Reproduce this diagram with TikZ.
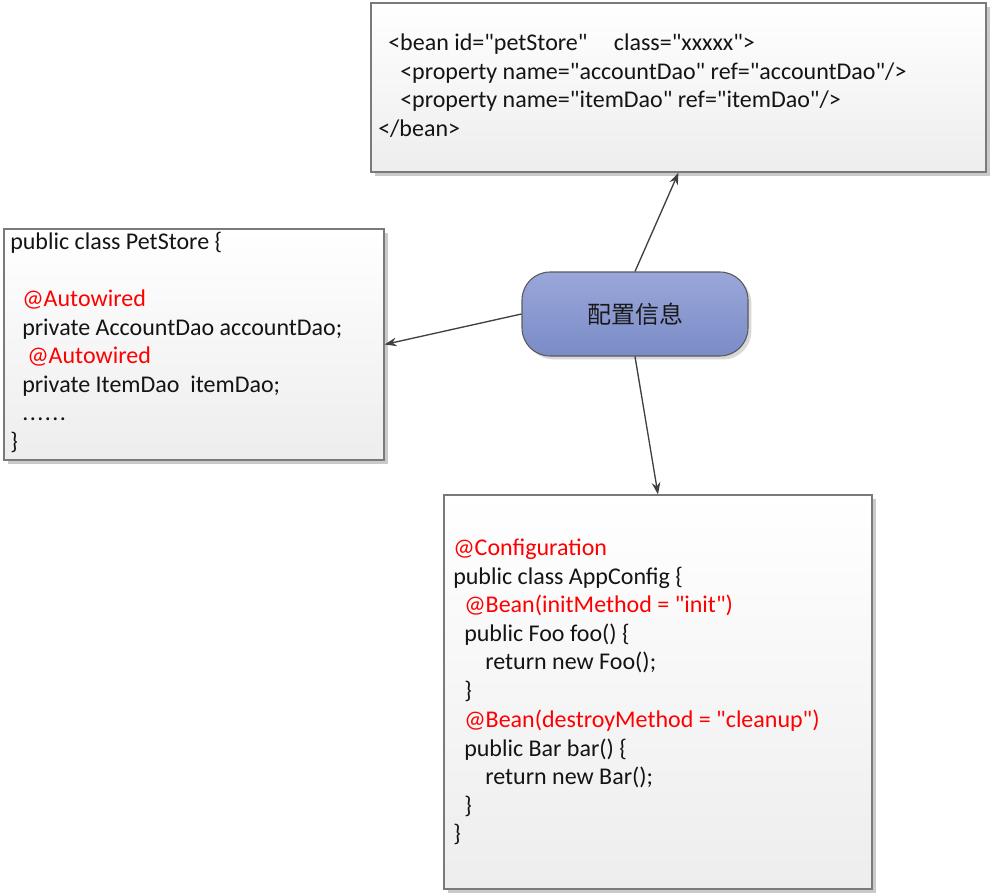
\documentclass[tikz,border=0pt]{standalone}
\usepackage{fontspec}
\setmainfont{Carlito}[Ligatures=TeXOff]
\newfontfamily\cjk{Noto Sans CJK SC}
\usetikzlibrary{arrows.meta,shadows}
\definecolor{boxline}{HTML}{7A7A7A}
\definecolor{ctop}{HTML}{9AA7DA}
\definecolor{cbot}{HTML}{7A8BC6}
\definecolor{codered}{HTML}{FF0000}
\definecolor{arrowc}{HTML}{404040}
\tikzset{
  codebox/.style={draw=boxline, line width=0.9pt, top color=white, bottom color=black!7,
    inner sep=0pt, drop shadow={shadow xshift=3pt, shadow yshift=-3pt, fill=black!35, opacity=0.6}},
  cfgbox/.style={draw=black!65, line width=0.8pt, top color=ctop, bottom color=cbot,
    rounded corners=21pt, inner sep=0pt, minimum width=169.5pt, minimum height=63pt,
    drop shadow={shadow xshift=2.5pt, shadow yshift=-2.5pt, fill=black!30, opacity=0.5},
    font=\cjk\fontsize{18pt}{21pt}\selectfont, text=black!90},
  ln/.style={anchor=base west, inner sep=0pt, font=\fontsize{18pt}{21pt}\selectfont, text=black!92},
  rd/.style={ln, text=codered},
  arr/.style={draw=arrowc, line width=1pt, -{Stealth[length=9pt, width=6.5pt]}}
}
\newcommand\sixdots{.\kern1.1pt.\kern1.1pt.\kern1.1pt.\kern1.1pt.\kern1.1pt.}
\begin{document}
\begin{tikzpicture}[x=0.75pt, y=-0.75pt]
\useasboundingbox (0,0) rectangle (992,895);
% boxes
\node[codebox, minimum width=461.25pt, minimum height=126.75pt] (bean) at (678.5,87.5) {};
\node[codebox, minimum width=285pt, minimum height=173.25pt] (pet) at (194,344.5) {};
\node[codebox, minimum width=321pt, minimum height=295.5pt] (app) at (658,692) {};
\node[cfgbox] (cfg) at (635,314) {配置信息};
% top box text
\node[ln] (b1) at (388,51) {<bean id="petStore"\hspace{1.1em}class="xxxxx">};
\node[ln] (b2) at (400,80) {<property name="accountDao" ref="accountDao"/>};
\node[ln] (b3) at (400,108) {<property name="itemDao" ref="itemDao"/>};
\node[ln] (b4) at (378,137) {</bean>};
% left box text
\node[ln] (p1) at (10,249) {public class PetStore \{};
\node[rd] (p2) at (22,306) {@Autowired};
\node[ln] (p3) at (22,335) {private AccountDao accountDao;};
\node[rd] (p4) at (27,363) {@Autowired};
\node[ln] (p5) at (22,392) {private ItemDao\ \ itemDao;};
\node[ln] (p6) at (22,420) {\sixdots};
\node[ln] (p7) at (10,449) {\}};
% bottom box text
\node[rd] (a1) at (453,555) {@Configuration};
\node[ln] (a2) at (453,584) {public class AppConfig \{};
\node[rd] (a3) at (464,612) {@Bean(initMethod = "init")};
\node[ln] (a4) at (464,641) {public Foo foo() \{};
\node[ln] (a5) at (485,669) {return new Foo();};
\node[ln] (a6) at (464,698) {\}};
\node[rd] (a7) at (464,727) {@Bean(destroyMethod = "cleanup")};
\node[ln] (a8) at (464,756) {public Bar bar() \{};
\node[ln] (a9) at (485,784) {return new Bar();};
\node[ln] (a10) at (464,813) {\}};
\node[ln] (a11) at (453,841) {\}};
% connectors
\draw[arr] (cfg.north) -- (bean.south);
\draw[arr] (cfg.west) -- (pet.east);
\draw[arr] (cfg.south) -- (app.north);
\end{tikzpicture}
\end{document}
